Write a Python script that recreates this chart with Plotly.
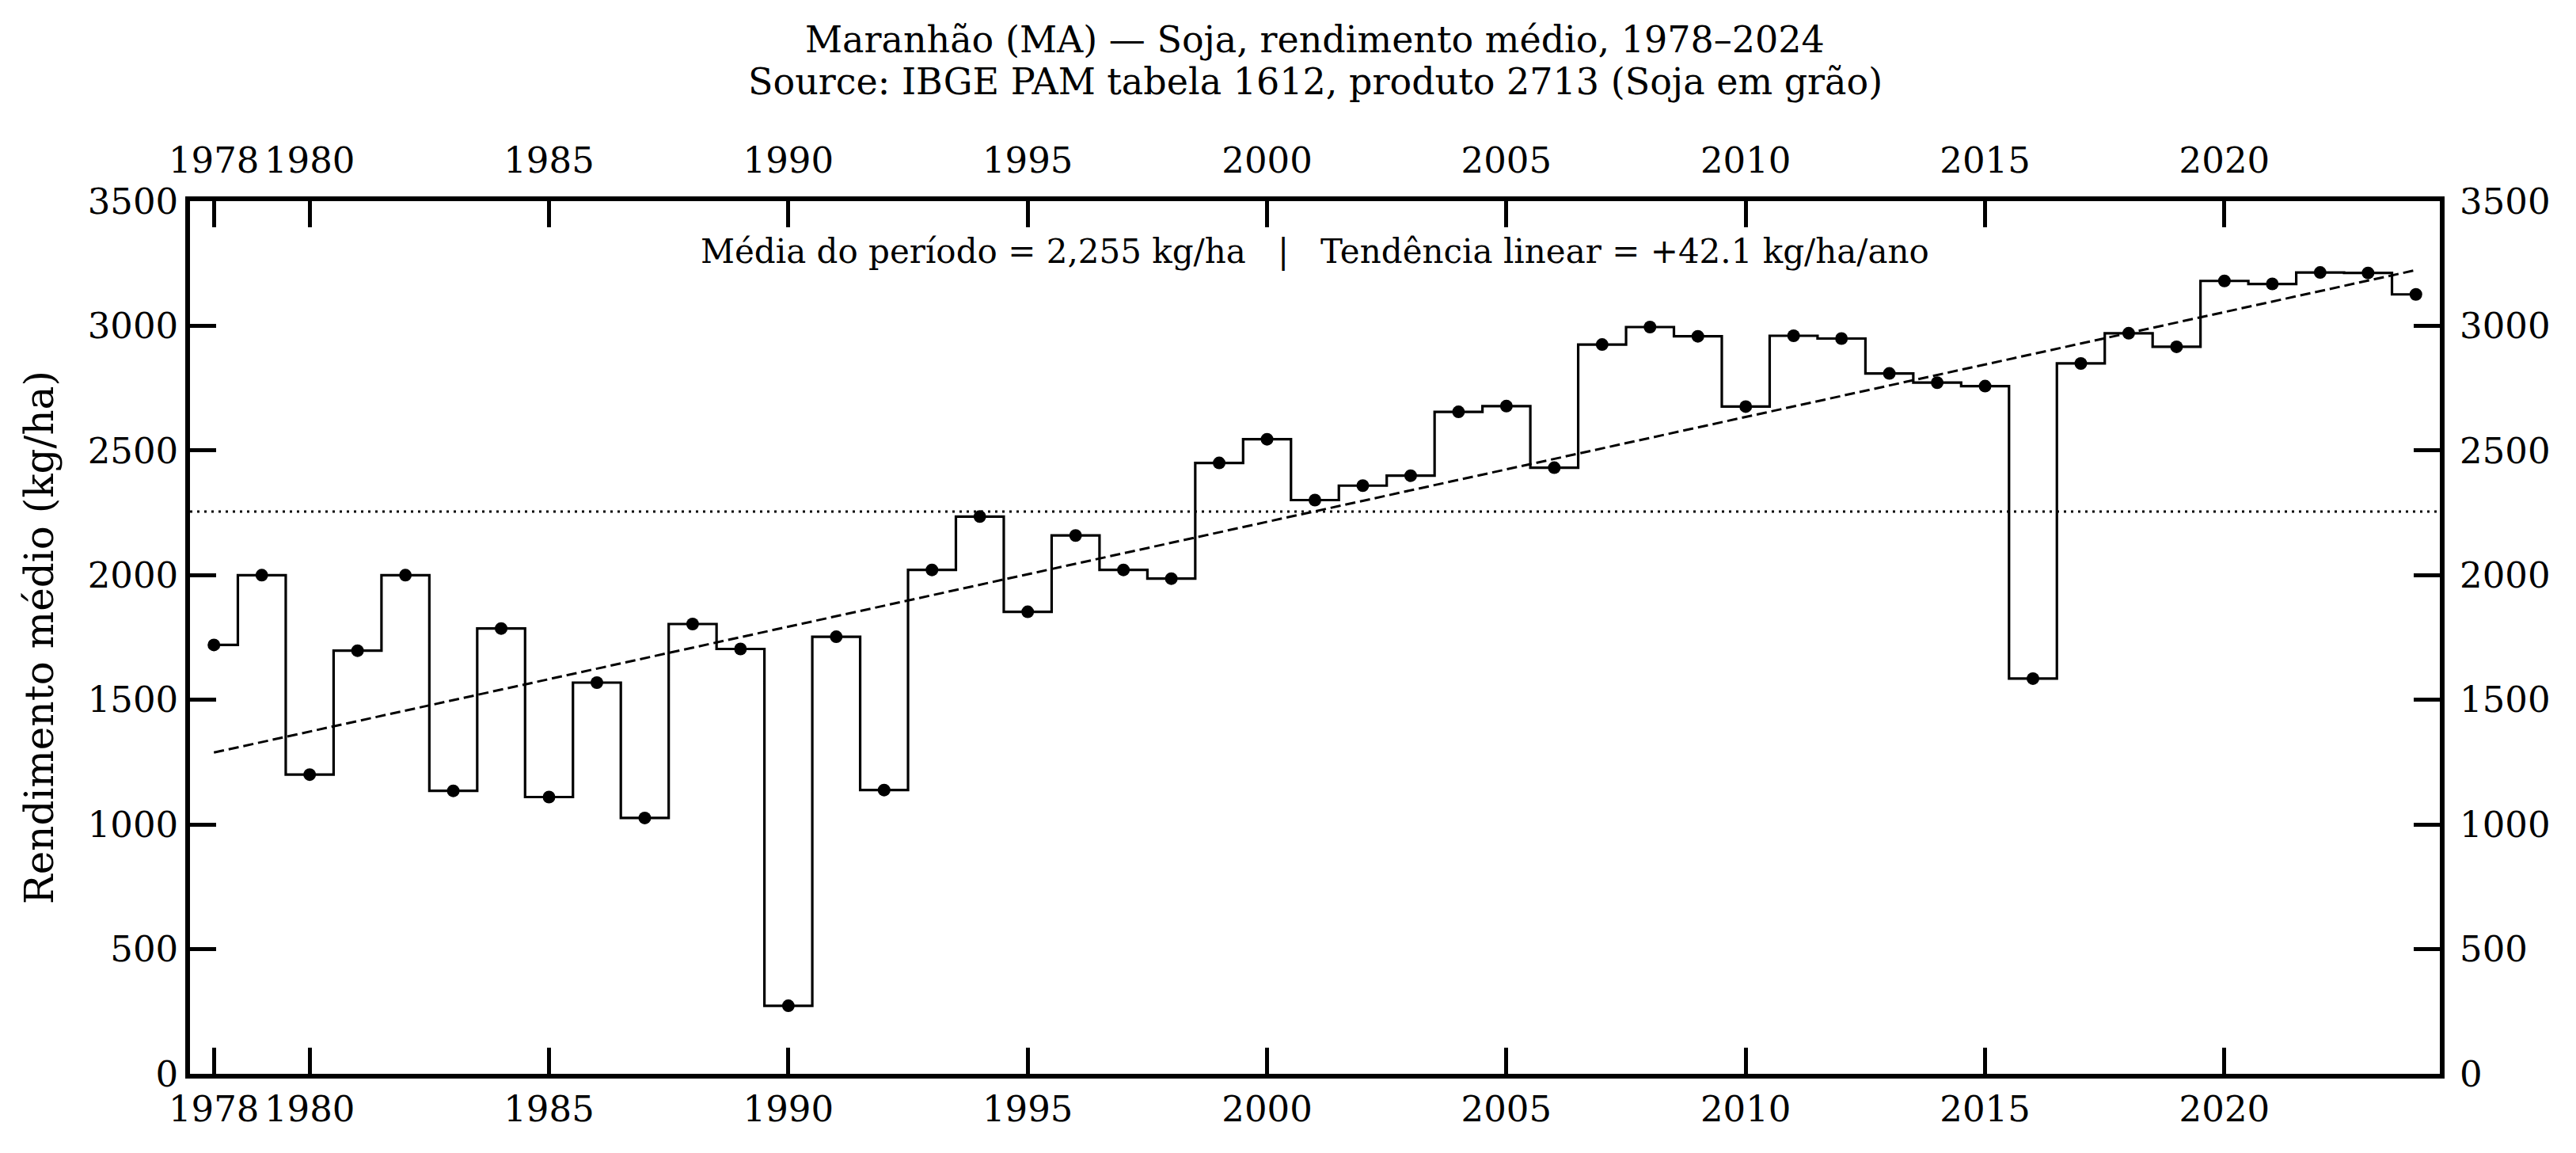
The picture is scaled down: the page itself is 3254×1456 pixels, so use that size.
import numpy as np
import plotly.graph_objects as go

# ---- data ----
years = list(range(1978, 2025))
yield_kg_ha = [
    1720, 2000, 1200, 1697, 2000, 1135, 1786, 1110, 1569, 1026,
    1804, 1704, 273, 1753, 1138, 2021, 2235, 1853, 2159, 2021,
    1986, 2450, 2545, 2301, 2359, 2399, 2655, 2678, 2431, 2925,
    2995, 2958, 2676, 2960, 2949, 2809, 2772, 2758, 1585, 2849,
    2970, 2916, 3180, 3168, 3214, 3212, 3126,
]
mean_value = 2255
x_tickvals = [1978, 1980, 1985, 1990, 1995, 2000, 2005, 2010, 2015, 2020]
y_tickvals = [0, 500, 1000, 1500, 2000, 2500, 3000, 3500]

title_line1 = "Maranhão (MA) — Soja, rendimento médio, 1978–2024"
title_line2 = "Source: IBGE PAM tabela 1612, produto 2713 (Soja em grão)"
annot_text = "Média do período = 2,255 kg/ha   |   Tendência linear = +42.1 kg/ha/ano"
y_label = "Rendimento médio (kg/ha)"

# ---- derived ----
slope, intercept = np.polyfit(years, yield_kg_ha, 1)
trend = [slope * y + intercept for y in years]
trend_x = [years[0], years[-1]]
trend_y = [trend[0], trend[-1]]

FONT = "DejaVu Serif"
W, H = 3254, 1456
L, R, T, B = 240, 172, 254, 100
SPINE = 5.5

fig = go.Figure()

# mean line (dotted)
fig.add_trace(go.Scatter(
    x=[1977.5, 2024.5], y=[mean_value, mean_value], mode="lines",
    line=dict(color="black", width=3, dash="3px,6px"),
    hoverinfo="skip", showlegend=False,
))
# trend line (dashed)
fig.add_trace(go.Scatter(
    x=trend_x, y=trend_y, mode="lines",
    line=dict(color="black", width=3, dash="13px,6px"),
    hoverinfo="skip", showlegend=False,
))
# step line
fig.add_trace(go.Scatter(
    x=years, y=yield_kg_ha, mode="lines",
    line=dict(color="black", width=3.2, shape="hvh"),
    showlegend=False,
))
# points
fig.add_trace(go.Scatter(
    x=years, y=yield_kg_ha, mode="markers",
    marker=dict(color="black", size=16),
    showlegend=False,
))
# invisible trace for secondary axes
fig.add_trace(go.Scatter(
    x=[years[0]], y=[yield_kg_ha[0]], xaxis="x2", yaxis="y2",
    mode="markers", marker=dict(opacity=0), hoverinfo="skip", showlegend=False,
))

tickfont = dict(family=FONT, size=45, color="black")
axis_common = dict(
    ticks="inside", ticklen=33, tickwidth=4.5, tickcolor="black",
    showgrid=False, zeroline=False, tickfont=tickfont,
)

fig.update_layout(
    width=W, height=H,
    margin=dict(l=L, r=R, t=T, b=B, pad=0),
    paper_bgcolor="white", plot_bgcolor="white",
    xaxis=dict(
        range=[1977.5, 2024.5], tickvals=x_tickvals,
        showline=True, linecolor="black", linewidth=SPINE, mirror=True,
        **axis_common,
    ),
    xaxis2=dict(
        range=[1977.5, 2024.5], tickvals=x_tickvals, overlaying="x",
        side="top", matches="x", showline=False, ticklabelstandoff=26,
        **axis_common,
    ),
    yaxis=dict(
        range=[0, 3500], tickvals=y_tickvals,
        showline=True, linecolor="black", linewidth=SPINE, mirror=True,
        **axis_common,
    ),
    yaxis2=dict(
        range=[0, 3500], tickvals=y_tickvals, overlaying="y",
        side="right", matches="y", showline=False, ticklabelstandoff=24,
        **axis_common,
    ),
    annotations=[
        dict(text=title_line1, x=0.5, y=(1356 - 50) / 1102, xref="paper", yref="paper",
             xanchor="center", yanchor="middle", showarrow=False,
             font=dict(family=FONT, size=46, color="black")),
        dict(text=title_line2, x=0.5, y=(1356 - 103) / 1102, xref="paper", yref="paper",
             xanchor="center", yanchor="middle", showarrow=False,
             font=dict(family=FONT, size=46, color="black")),
        dict(text=annot_text, x=0.5, y=(1356 - 317) / 1102, xref="paper", yref="paper",
             xanchor="center", yanchor="middle", showarrow=False,
             font=dict(family=FONT, size=42, color="black")),
        dict(text=y_label, x=(50 - 240) / 2842, y=0.5, xref="paper", yref="paper",
             xanchor="center", yanchor="middle", showarrow=False, textangle=-90,
             font=dict(family=FONT, size=50, color="black")),
    ],
)

fig.write_html("out.html")
